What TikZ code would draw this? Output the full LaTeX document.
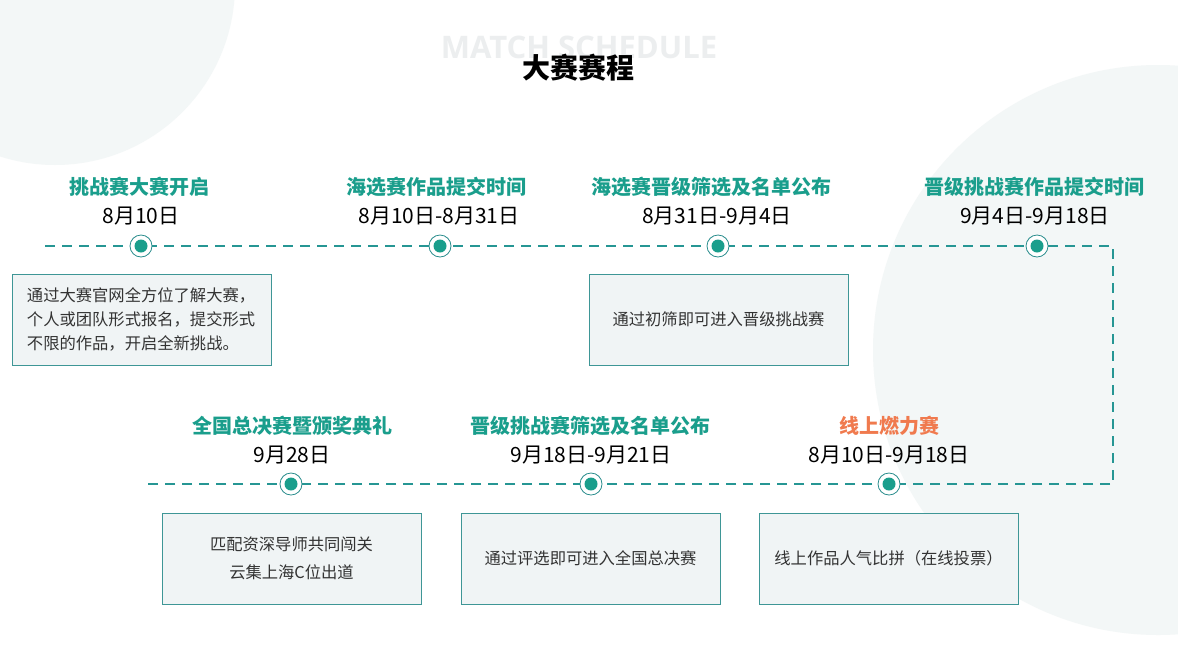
\documentclass[tikz,border=0pt]{standalone}
\usepackage{fontspec}
\setmainfont{Noto Sans CJK SC}
\newfontfamily\wmfont{Open Sans}
\definecolor{teal1}{RGB}{26,158,140}
\definecolor{dashc}{RGB}{38,150,148}
\definecolor{ringc}{RGB}{40,140,140}
\definecolor{boxline}{RGB}{62,150,150}
\definecolor{boxfill}{RGB}{240,244,245}
\definecolor{orange1}{RGB}{240,122,78}
\definecolor{bgcirc}{RGB}{243,247,247}
\definecolor{wmgray}{RGB}{236,238,239}
\definecolor{txt}{RGB}{51,51,51}
\begin{document}
\begin{tikzpicture}[x=1pt,y=-1pt,
  head/.style={font=\fontsize{20}{23}\selectfont\bfseries, text=teal1, inner sep=0pt},
  datelbl/.style={font=\fontsize{21}{24}\selectfont, text=black, inner sep=0pt},
  dot/.style={circle, draw=ringc, line width=0.8pt, fill=white, minimum size=22pt, inner sep=0pt,
    path picture={\fill[teal1] (path picture bounding box.center) circle (6.5pt);}},
  infobox/.style={draw=boxline, line width=0.8pt, fill=boxfill, minimum width=259pt, minimum height=91pt,
    inner sep=0pt, font=\fontsize{16.3}{24}\selectfont, text=txt},
  dashline/.style={draw=dashc, line width=2pt, dash pattern=on 10pt off 7pt}
]
\useasboundingbox (0,0) rectangle (1178,657);
\clip (0,0) rectangle (1178,657);
\fill[white] (0,0) rectangle (1178,657);
\fill[bgcirc] (55,-15) circle (180pt);
\fill[bgcirc] (1158,350) circle (285pt);

% title
\node[font=\wmfont\fontsize{31}{34}\selectfont\bfseries, text=wmgray, inner sep=0pt] (wm) at (579,47) {MATCH SCHEDULE};
\node[font=\fontsize{28}{31}\selectfont\bfseries, text=black, inner sep=0pt] (title) at (578,68) {大赛赛程};

% connector path
\coordinate (s) at (45,246);
\coordinate (c1) at (1113,246);
\coordinate (c2) at (1113,484);
\coordinate (e) at (145,484);
\draw[dashline] (s) -- (c1) -- (c2) -- (e);

% top row
\node[head] (h1) at (139,187) {挑战赛大赛开启};
\node[datelbl] (d1) at (141,216) {8月10日};
\node[dot] (p1) at (141,246) {};
\node[infobox, align=left, text width=229pt] (b1) at (141.5,319.5) {通过大赛官网全方位了解大赛，\\个人或团队形式报名，提交形式\\不限的作品，开启全新挑战。};

\node[head] (h2) at (436,187) {海选赛作品提交时间};
\node[datelbl] (d2) at (439,216) {8月10日-8月31日};
\node[dot] (p2) at (440,246) {};

\node[head] (h3) at (711,187) {海选赛晋级筛选及名单公布};
\node[datelbl] (d3) at (717,216) {8月31日-9月4日};
\node[dot] (p3) at (718,246) {};
\node[infobox] (b3) at (718.5,319.5) {通过初筛即可进入晋级挑战赛};

\node[head] (h4) at (1034,187) {晋级挑战赛作品提交时间};
\node[datelbl] (d4) at (1035,216) {9月4日-9月18日};
\node[dot] (p4) at (1037,246) {};

% bottom row
\node[head] (h5) at (292,426) {全国总决赛暨颁奖典礼};
\node[datelbl] (d5) at (292,455) {9月28日};
\node[dot] (p5) at (291,484) {};
\node[infobox, align=center, font=\fontsize{16.3}{28}\selectfont] (b5) at (291.5,558.5) {匹配资深导师共同闯关\\云集上海C位出道};

\node[head] (h6) at (590,426) {晋级挑战赛筛选及名单公布};
\node[datelbl] (d6) at (591,455) {9月18日-9月21日};
\node[dot] (p6) at (591,484) {};
\node[infobox] (b6) at (590.5,558.5) {通过评选即可进入全国总决赛};

\node[head, text=orange1] (h7) at (889,426) {线上燃力赛};
\node[datelbl] (d7) at (889,455) {8月10日-9月18日};
\node[dot] (p7) at (889,484) {};
\node[infobox] (b7) at (888.5,558.5) {线上作品人气比拼（在线投票）};
\end{tikzpicture}
\end{document}
